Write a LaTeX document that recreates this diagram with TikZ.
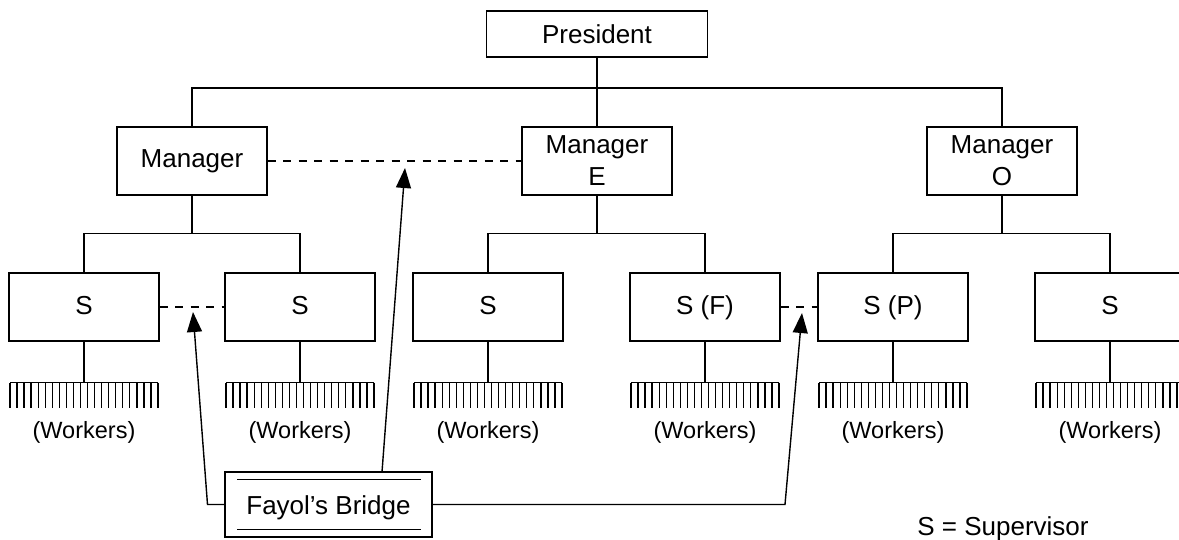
\documentclass[tikz,border=0pt]{standalone}
\usepackage{fontspec}
\setmainfont{Liberation Sans}
\usetikzlibrary{arrows.meta,calc}
\begin{document}
\begin{tikzpicture}[x=1pt,y=-1pt,
  line width=1.4pt,
  box/.style={draw,line width=1.4pt,minimum width=150pt,minimum height=68pt,
    inner sep=0pt,align=center,font=\fontsize{26}{32}\selectfont},
  sbox/.style={box,text height=18.6pt,text depth=4.6pt},
  dashline/.style={dash pattern=on 8pt off 7.5pt},
  bridge/.style={-{Triangle[length=20pt,width=15pt]}},
  workers/.pic={
    \draw (-74,0) -- (74,0);
    \foreach \i in {0,...,21} \draw[line width=1.3pt] ({-74+\i*148/21},0) -- ++(0,25);
    \node[anchor=base,inner sep=0pt,font=\fontsize{23.5}{28}\selectfont] (-lbl) at (0,56) {(Workers)};
  }]
\clip (0,0) rectangle (1179,539);

% top of the hierarchy
\node[box,minimum width=221pt,minimum height=46pt] (pres) at (597,34) {President};
\node[box] (m1) at (192,161) {Manager};
\node[box] (m2) at (597,161) {Manager\\E};
\node[box] (m3) at (1002,161) {Manager\\O};

\coordinate (j0) at (597,88);
\draw (pres.south) -- (j0);
\draw (m1.north) |- (j0) -| (m3.north);
\draw (j0) -- (m2.north);

% supervisors
\node[sbox] (s1) at (84,307) {S};
\node[sbox] (s2) at (300,307) {S};
\node[sbox] (s3) at (488,307) {S};
\node[sbox] (s4) at (705,307) {S (F)};
\node[sbox] (s5) at (893,307) {S (P)};
\node[sbox] (s6) at (1110,307) {S};

\foreach \m/\a/\b in {m1/s1/s2, m2/s3/s4, m3/s5/s6}{
  \coordinate (j-\m) at ($(\m.south)+(0,38)$);
  \draw (\m.south) -- (j-\m);
  \draw (\a.north) |- (j-\m) -| (\b.north);
}

% workers under each supervisor
\foreach \s in {1,...,6}{
  \coordinate (w\s) at ($(s\s.south)+(0,41)$);
  \draw (s\s.south) -- (w\s);
  \pic (wk\s) at (w\s) {workers};
}

% gang planks
\draw[dashline] (m1.east) -- (m2.west);
\draw[dashline] (s1.east) -- (s2.west);
\draw[dashline] (s4.east) -- (s5.west);

% Fayol's bridge
\node[draw,line width=1.4pt,minimum width=207pt,minimum height=65pt,inner sep=0pt,
  text height=19pt,text depth=0pt,font=\fontsize{26}{32}\selectfont] (fb) at (328.5,504.5) {Fayol’s Bridge};
\draw ($(fb.north west)+(13,8)$) -- ($(fb.north east)+(-12,8)$);
\draw ($(fb.south west)+(13,-8)$) -- ($(fb.south east)+(-12,-8)$);

\coordinate (tipL) at (193,312);
\coordinate (tipM) at (405,168);
\coordinate (tipR) at (802,313);
\coordinate (bendL) at (207.5,504.5);
\coordinate (bendR) at (785,504.5);
\coordinate (fbtop) at (382,472);
\draw[bridge] (fb.west) -- (bendL) -- (tipL);
\draw[bridge] (fbtop) -- (tipM);
\draw[bridge] (fb.east) -- (bendR) -- (tipR);

% legend
\node[anchor=base,inner sep=0pt,font=\fontsize{26}{32}\selectfont] (legend) at (1003,535) {S = Supervisor};
\end{tikzpicture}
\end{document}
